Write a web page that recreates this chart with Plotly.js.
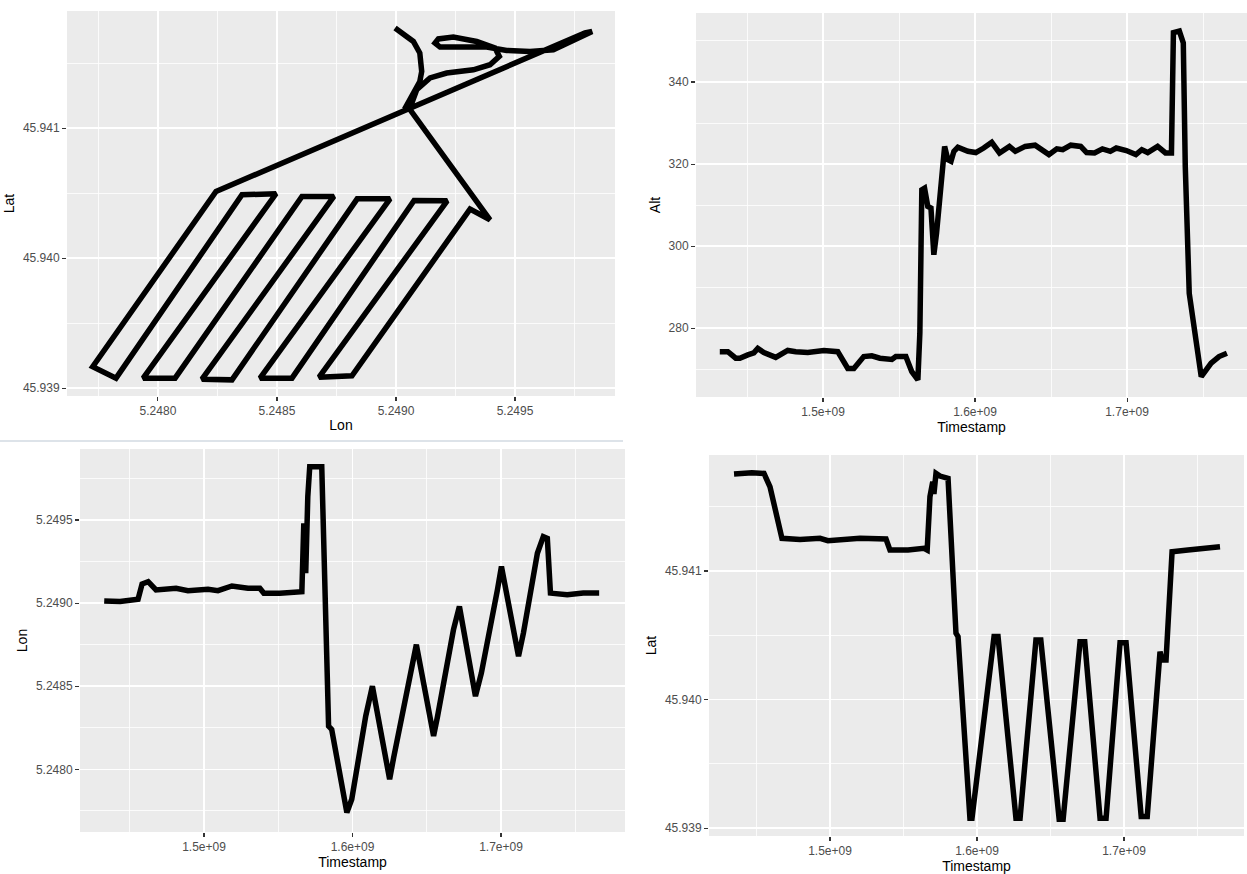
<!DOCTYPE html>
<html><head><meta charset="utf-8">
<script src="https://cdn.plot.ly/plotly-3.0.1.min.js"></script>
<style>html,body{margin:0;padding:0;background:#fff;} #chart{width:1247px;height:874px;}</style>
</head><body><div id="chart"></div>
<script>
// ---- Flight path (Lon / Lat) ----
const pathLon = [5.248996,5.249073,5.249100,5.249108,5.249100,5.249066,5.249042,5.249059,
  5.249087,5.249143,5.249213,5.249325,5.249395,5.249434,5.249416,5.249339,5.249241,5.249178,
  5.249164,5.249185,5.249269,5.249381,5.249465,5.249563,5.249661,5.249773,5.249824,5.249794,
  5.248244,5.247726,5.247824,5.248353,5.248496,5.247938,5.248072,5.248605,5.248739,5.248185,
  5.248311,5.248837,5.248975,5.248429,5.248563,5.249076,5.249215,5.248677,5.248815,5.249311,
  5.249395,5.249059];
const pathLat = [45.941769,45.941666,45.941577,45.941435,45.941358,45.941243,45.941166,45.941154,
  45.941295,45.941385,45.941423,45.941448,45.941487,45.941551,45.941615,45.941666,45.941700,45.941685,
  45.941654,45.941623,45.941623,45.941623,45.941597,45.941589,45.941602,45.941704,45.941743,45.941731,
  45.940512,45.939166,45.939077,45.940487,45.940495,45.939077,45.939077,45.940474,45.940474,45.939069,
  45.939064,45.940456,45.940456,45.939077,45.939077,45.940443,45.940441,45.939085,45.939095,45.940377,
  45.940295,45.941141];

// ---- Altitude vs Timestamp ----
const altT = [1.4321e9,1.4374e9,1.4426e9,1.4453e9,1.4505e9,1.4545e9,1.4571e9,1.4611e9,1.4689e9,1.4768e9,
  1.4821e9,1.4900e9,1.5005e9,1.5097e9,1.5163e9,1.5203e9,1.5268e9,1.5321e9,1.5374e9,1.5453e9,
  1.5479e9,1.5545e9,1.5584e9,1.5624e9,1.5637e9,1.5650e9,1.5668e9,1.5689e9,1.5710e9,1.5729e9,
  1.5747e9,1.5768e9,1.5789e9,1.5800e9,1.5821e9,1.5842e9,1.5861e9,1.5887e9,1.5953e9,1.6005e9,
  1.6057e9,1.6110e9,1.6161e9,1.6226e9,1.6265e9,1.6330e9,1.6395e9,1.6486e9,1.6538e9,1.6577e9,
  1.6630e9,1.6695e9,1.6734e9,1.6786e9,1.6838e9,1.6890e9,1.6929e9,1.6995e9,1.7058e9,1.7097e9,
  1.7136e9,1.7201e9,1.7253e9,1.7292e9,1.7305e9,1.7344e9,1.7370e9,1.7383e9,1.7409e9,1.7448e9,
  1.7488e9,1.7553e9,1.7605e9,1.7657e9];
const altV = [274.3,274.3,272.7,272.7,273.5,274.0,275.1,274.1,272.9,274.6,
  274.3,274.1,274.6,274.3,270.2,270.2,273.1,273.3,272.7,272.4,
  273.1,273.1,269.4,267.4,278.8,313.7,314.1,309.7,309.3,297.9,
  303.2,312.9,318.6,324.3,321.1,320.7,323.1,324.1,323.1,322.8,
  323.9,325.3,322.7,324.3,323.1,324.3,324.6,322.3,323.7,323.5,
  324.6,324.3,322.8,322.7,323.7,323.1,323.9,323.3,322.3,323.5,
  322.8,324.3,322.7,322.7,352.0,352.4,349.5,319.4,288.5,278.8,
  268.2,271.5,273.1,273.9];

// ---- Longitude vs Timestamp ----
const lonT = [1.4328e9,1.4435e9,1.4556e9,1.4583e9,1.4624e9,1.4677e9,1.4812e9,1.4892e9,1.5027e9,1.5094e9,
  1.5188e9,1.5296e9,1.5376e9,1.5403e9,1.5511e9,1.5632e9,1.5659e9,1.5672e9,1.5685e9,1.5699e9,
  1.5712e9,1.5793e9,1.5801e9,1.5820e9,1.5839e9,1.5860e9,1.5962e9,1.5995e9,1.6089e9,1.6134e9,
  1.6250e9,1.6277e9,1.6398e9,1.6430e9,1.6546e9,1.6573e9,1.6680e9,1.6720e9,1.6828e9,1.6868e9,
  1.6976e9,1.7003e9,1.7118e9,1.7151e9,1.7245e9,1.7285e9,1.7312e9,1.7333e9,1.7446e9,1.7554e9,1.7661e9];
const lonV = [5.249013,5.249009,5.249023,5.249115,5.249129,5.249079,5.249089,5.249075,5.249083,5.249075,
  5.249103,5.249089,5.249089,5.249059,5.249059,5.249065,5.249069,5.249480,5.249180,5.249640,
  5.249820,5.249820,5.249520,5.249080,5.248260,5.248240,5.247740,5.247820,5.248320,5.248500,
  5.247940,5.248070,5.248620,5.248750,5.248200,5.248320,5.248840,5.248980,5.248440,5.248580,
  5.249080,5.249220,5.248680,5.248820,5.249300,5.249400,5.249390,5.249060,5.249050,5.249060,5.249060];

// ---- Latitude vs Timestamp ----
const latT = [1.4347e9,1.4469e9,1.4551e9,1.4592e9,1.4673e9,1.4796e9,1.4932e9,1.4986e9,1.5204e9,1.5381e9,
  1.5408e9,1.5531e9,1.5639e9,1.5661e9,1.5680e9,1.5690e9,1.5699e9,1.5707e9,1.5721e9,1.5748e9,
  1.5803e9,1.5857e9,1.5871e9,1.5952e9,1.5966e9,1.6116e9,1.6143e9,1.6265e9,1.6293e9,1.6401e9,
  1.6434e9,1.6559e9,1.6586e9,1.6701e9,1.6733e9,1.6837e9,1.6878e9,1.6973e9,1.7014e9,1.7117e9,
  1.7158e9,1.7245e9,1.7259e9,1.7286e9,1.7327e9,1.7435e9,1.7544e9,1.7653e9];
const latV = [45.941754,45.941764,45.941759,45.941655,45.941254,45.941246,45.941254,45.941236,45.941254,45.941249,
  45.941163,45.941163,45.941176,45.941163,45.941578,45.941650,45.941694,45.941600,45.941759,45.941738,
  45.941720,45.940516,45.940490,45.939078,45.939078,45.940490,45.940490,45.939078,45.939078,45.940464,
  45.940464,45.939070,45.939070,45.940451,45.940451,45.939078,45.939078,45.940443,45.940443,45.939091,
  45.939091,45.940373,45.940308,45.940308,45.941150,45.941163,45.941176,45.941189];

// ---- Tick labels ----
const timeTickVals = [1.5e9, 1.6e9, 1.7e9];
const timeTickText = ['1.5e+09', '1.6e+09', '1.7e+09'];

// ---- Layout helpers ----
const W = 1247, H = 874;
const dx = (l, r) => [l / W, r / W];
const dy = (t, b) => [1 - b / H, 1 - t / H];
const FONT = 'Liberation Sans, Arial, Helvetica, sans-serif';
const tickFont = {family: FONT, size: 12, color: '#4D4D4D'};
const titleFont = {family: FONT, size: 14, color: '#000000'};
const lineStyle = {color: '#000000', width: 5.5};

function axis(o) {
  return Object.assign({
    showline: false, zeroline: false, showgrid: true,
    gridcolor: '#FFFFFF', gridwidth: 1.6,
    ticks: 'outside', ticklen: 4, tickwidth: 1.1, tickcolor: '#333333',
    tickfont: tickFont, automargin: false, fixedrange: true
  }, o);
}
function minor(tick0, dtick) {
  return {tick0: tick0, dtick: dtick, showgrid: true, gridcolor: '#FFFFFF', gridwidth: 0.8, ticks: ''};
}
function timeAxis(o) {
  return axis(Object.assign({
    tickmode: 'array', tickvals: timeTickVals, ticktext: timeTickText,
    minor: minor(1.45e9, 1e8),
    title: {text: 'Timestamp', font: titleFont, standoff: 2}
  }, o));
}

const traces = [
  {x: pathLon, y: pathLat, xaxis: 'x', yaxis: 'y', type: 'scatter', mode: 'lines', line: lineStyle, hoverinfo: 'skip'},
  {x: altT, y: altV, xaxis: 'x2', yaxis: 'y2', type: 'scatter', mode: 'lines', line: lineStyle, hoverinfo: 'skip'},
  {x: lonT, y: lonV, xaxis: 'x3', yaxis: 'y3', type: 'scatter', mode: 'lines', line: lineStyle, hoverinfo: 'skip'},
  {x: latT, y: latV, xaxis: 'x4', yaxis: 'y4', type: 'scatter', mode: 'lines', line: lineStyle, hoverinfo: 'skip'}
];

const layout = {
  width: W, height: H,
  margin: {l: 0, r: 0, t: 0, b: 0},
  paper_bgcolor: '#FFFFFF', plot_bgcolor: '#EBEBEB',
  showlegend: false,
  xaxis: axis({domain: dx(67, 615), anchor: 'y', range: [5.247618, 5.24992],
    tickmode: 'linear', tick0: 5.248, dtick: 0.0005, tickformat: '.4f',
    minor: minor(5.24775, 0.0005),
    title: {text: 'Lon', font: titleFont, standoff: 2}}),
  yaxis: axis({domain: dy(11, 396), anchor: 'x', range: [45.93894, 45.9419],
    tickmode: 'linear', tick0: 45.939, dtick: 0.001, tickformat: '.3f',
    minor: minor(45.9395, 0.001),
    title: {text: 'Lat', font: titleFont, standoff: 4}}),

  xaxis2: timeAxis({domain: dx(696, 1247), anchor: 'y2', range: [1.41645e9, 1.7789e9]}),
  yaxis2: axis({domain: dy(13, 397), anchor: 'x2', range: [263.25, 356.8],
    tickmode: 'linear', tick0: 280, dtick: 20,
    minor: minor(270, 20),
    title: {text: 'Alt', font: titleFont, standoff: 4}}),

  xaxis3: timeAxis({domain: dx(80, 625), anchor: 'y3', range: [1.4165e9, 1.7835e9]}),
  yaxis3: axis({domain: dy(449, 832), anchor: 'x3', range: [5.247623, 5.249927],
    tickmode: 'linear', tick0: 5.248, dtick: 0.0005, tickformat: '.4f',
    minor: minor(5.24775, 0.0005),
    title: {text: 'Lon', font: titleFont, standoff: 4}}),

  xaxis4: timeAxis({domain: dx(709, 1244), anchor: 'y4', range: [1.41769e9, 1.78163e9]}),
  yaxis4: axis({domain: dy(455, 836), anchor: 'x4', range: [45.93894, 45.941902],
    tickmode: 'linear', tick0: 45.939, dtick: 0.001, tickformat: '.3f',
    minor: minor(45.9395, 0.001),
    title: {text: 'Lat', font: titleFont, standoff: 4}}),

  shapes: [{type: 'line', xref: 'paper', yref: 'paper', x0: 0, x1: 623 / W,
    y0: 1 - 441 / H, y1: 1 - 441 / H, line: {color: '#DDE3E9', width: 2}}]
};

Plotly.newPlot('chart', traces, layout, {displayModeBar: false, staticPlot: true});
</script>
</body></html>
